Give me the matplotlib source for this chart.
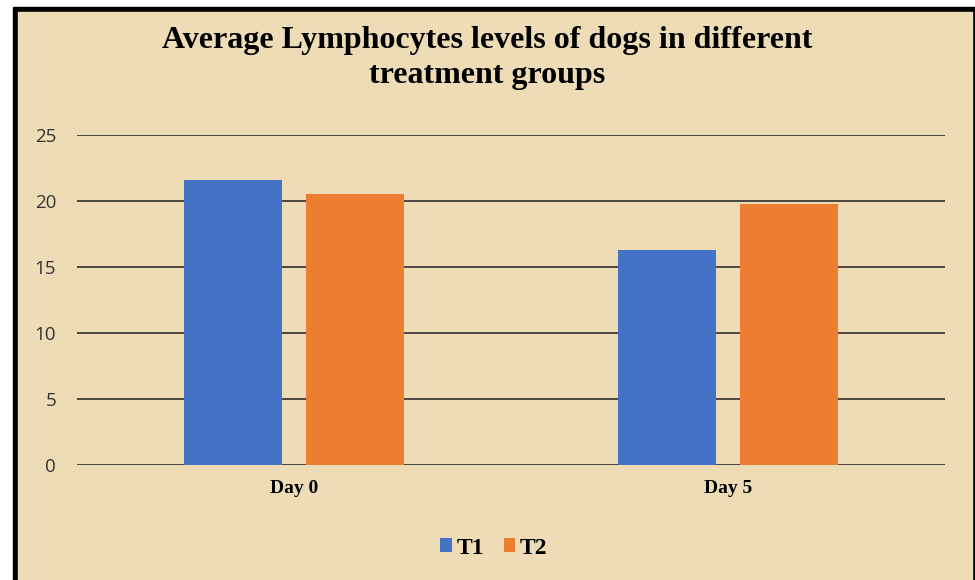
import matplotlib

matplotlib.use("Agg")
import matplotlib.pyplot as plt
import numpy as np
from matplotlib.patches import Rectangle

# --- data ---------------------------------------------------------------
days = ["Day 0", "Day 5"]
t1 = [21.6, 16.3]
t2 = [20.5, 19.8]
series_names = ["T1", "T2"]

T1_COLOR = "#4472c4"
T2_COLOR = "#ed7d31"
PAPER = "#eddcb5"
SERIF = ["Liberation Serif", "DejaVu Serif"]

fig = plt.figure(figsize=(9.75, 5.8), dpi=100, facecolor="white")

# frame: white strip, black border, parchment fill
W, H = 975, 580
fig.patches.append(Rectangle((13 / W, 0), 1 - 13 / W, 1 - 7 / H,
                             transform=fig.transFigure, color="black", zorder=-2))
fig.patches.append(Rectangle((18 / W, 0), (972 - 18) / W, 1 - 12 / H,
                             transform=fig.transFigure, color=PAPER, zorder=-1))

ax = fig.add_axes([77 / W, 1 - 465 / H, (945 - 77) / W, (465 - 135) / H])
ax.set_facecolor("none")

x = np.arange(len(days))
w = 0.225
off = 0.14
ax.bar(x - off, t1, w, color=T1_COLOR, label=series_names[0], zorder=3)
ax.bar(x + off, t2, w, color=T2_COLOR, label=series_names[1], zorder=3)

ax.set_xlim(-0.5, 1.5)
ax.set_ylim(0, 25)
ax.set_yticks(range(0, 26, 5))
ax.grid(axis="y", color="#1e1e1e", lw=1.1, zorder=1)
for s in ax.spines.values():
    s.set_visible(False)
ax.tick_params(axis="both", length=0)
ax.tick_params(axis="y", pad=15, labelsize=13.5, labelcolor="#333333")
for lab in ax.get_yticklabels():
    lab.set_family(["Open Sans", "DejaVu Sans"])
ax.set_xticks(x)
ax.set_xticklabels(days, family=SERIF, fontweight="bold", fontsize=14)
ax.tick_params(axis="x", pad=11)

fig.text(0.5, 1 - 58 / H, "Average Lymphocytes levels of dogs in different\ntreatment groups",
         ha="center", va="center", family=SERIF, fontweight="bold", fontsize=23,
         linespacing=1.3)

fig.legend(loc="center", bbox_to_anchor=(494 / W, 1 - 548 / H), ncol=2, frameon=False,
           prop={"family": SERIF, "weight": "bold", "size": 17},
           handlelength=0.5, handleheight=0.5, handletextpad=0.2, columnspacing=0.8)

fig.savefig("out.png", dpi=100, facecolor="white")
